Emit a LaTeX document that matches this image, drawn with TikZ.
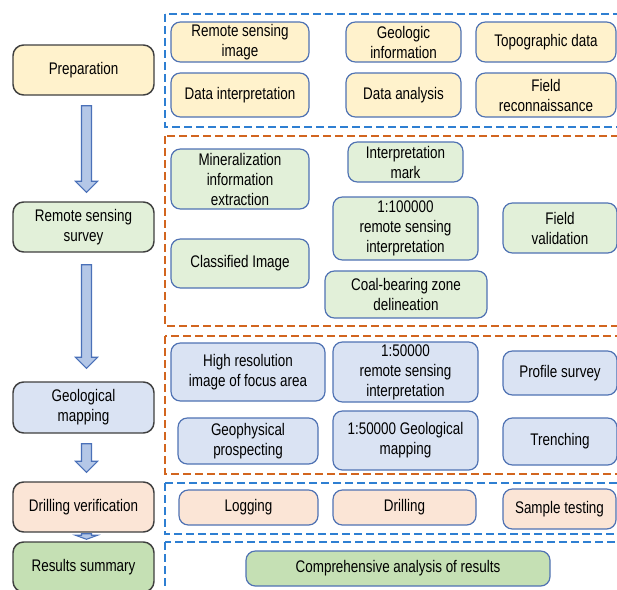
\documentclass[tikz,border=0pt]{standalone}
\usepackage{fontspec}
\setmainfont{Liberation Sans}[FakeStretch=0.8]
\usetikzlibrary{calc}

\definecolor{prepfill}{HTML}{FFF2CC}
\definecolor{surveyfill}{HTML}{E2F0D9}
\definecolor{mapfill}{HTML}{DAE3F3}
\definecolor{drillfill}{HTML}{FBE5D6}
\definecolor{resultfill}{HTML}{C5E0B4}
\definecolor{itemline}{HTML}{4F72B3}
\definecolor{stageline}{HTML}{3F3F3F}
\definecolor{dashblue}{HTML}{2E7FD2}
\definecolor{dashorange}{HTML}{D2651F}
\definecolor{arrowfill}{HTML}{B4C7E7}
\definecolor{arrowline}{HTML}{4A70B8}

\newcommand{\unitpx}{0.75pt}

% block arrow between two stages: from, to, start gap, end gap, head length
\newcommand{\blockarrow}[5]{%
  \draw[bigarrow] ($(#1.south)+(-2,#3)$) -- ($(#2.north)+(-2,-#4-#5)$) -- ++(-6,0)
    -- ($(#2.north)+(3,-#4)$) -- ($(#2.north)+(14,-#4-#5)$) -- ++(-6,0)
    -- ($(#1.south)+(8,#3)$) -- cycle;}

\tikzset{
  sz/.style 2 args={minimum width=#1*\unitpx, minimum height=#2*\unitpx},
  stage/.style={draw=stageline, line width=1.1pt, rounded corners=8pt,
    align=center, inner sep=1pt, sz={141}{50}},
  item/.style={draw=itemline, line width=0.9pt, rounded corners=7pt,
    align=center, inner sep=1pt},
  frame/.style={dashed, dash pattern=on 6pt off 3pt, line width=1.5pt},
  bigarrow/.style={draw=arrowline, fill=arrowfill, line width=0.8pt}
}

\begin{document}
\begin{tikzpicture}[x=0.75pt, y=-0.75pt, font=\fontsize{12.6}{15}\selectfont]
    \clip (0,0) rectangle (617,589);

    % dashed frames
    \draw[frame, dashblue] (165,14) rectangle (640,127);
    \draw[frame, dashorange] (165,136) rectangle (640,326);
    \draw[frame, dashorange] (165,336) rectangle (640,474);
    \draw[frame, dashblue] (165,483) rectangle (640,534);
    \draw[frame, dashblue] (165,542) rectangle (640,610);

    % stages
    \node[stage, fill=prepfill] (prep) at (83.5,70) {Preparation};
    \node[stage, fill=surveyfill] (survey) at (83.5,227) {Remote sensing\\survey};
    \node[stage, fill=mapfill, sz={141}{51}] (geomap) at (83.5,407.5) {Geological\\mapping};
    \node[stage, fill=drillfill] (drillver) at (83.5,507) {Drilling verification};
    \node[stage, fill=resultfill] (results) at (83.5,567) {Results summary};

    \blockarrow{prep}{survey}{10}{9}{11}
    \blockarrow{survey}{geomap}{12}{13}{11}
    \blockarrow{geomap}{drillver}{10}{9}{11}
    \blockarrow{drillver}{results}{1}{2}{4}

    % Preparation
    \begin{scope}[every node/.style={item, fill=prepfill}]
        \node[sz={138}{40}] (rsimage) at (240,42) {Remote sensing\\image};
        \node[sz={138}{44}] (datainterp) at (240,95) {Data interpretation};
        \node[sz={115}{40}] (geoinfo) at (403.5,42) {Geologic\\information};
        \node[sz={115}{44}] (dataanal) at (403.5,95) {Data analysis};
        \node[sz={140}{40}] (topo) at (546,42) {Topographic data};
        \node[sz={140}{44}] (fieldrec) at (546,95) {Field\\reconnaissance};
    \end{scope}

    % Remote sensing survey
    \begin{scope}[every node/.style={item, fill=surveyfill}]
        \node[sz={138}{60}] (mineral) at (240,179) {Mineralization\\information\\extraction};
        \node[sz={138}{49}] (classified) at (240,263.5) {Classified Image};
        \node[sz={115}{40}] (mark) at (405.5,162) {Interpretation\\mark};
        \node[sz={145}{63}] (rs100k) at (405.5,228.5) {1:100000\\remote sensing\\interpretation};
        \node[sz={162}{47}] (coal) at (406,294.5) {Coal-bearing zone\\delineation};
        \node[sz={114}{50}] (fieldval) at (560,228) {Field\\validation};
    \end{scope}

    % Geological mapping
    \begin{scope}[every node/.style={item, fill=mapfill}]
        \node[sz={154}{58}] (highres) at (248,372) {High resolution\\image of focus area};
        \node[sz={140}{46}] (geophys) at (248,441) {Geophysical\\prospecting};
        \node[sz={145}{60}] (rs50k) at (405.5,372) {1:50000\\remote sensing\\interpretation};
        \node[sz={145}{59}] (geomap50k) at (405.5,440.5) {1:50000 Geological\\mapping};
        \node[sz={114}{44}] (profile) at (560,373) {Profile survey};
        \node[sz={114}{47}] (trench) at (560,441.5) {Trenching};
    \end{scope}

    % Drilling verification
    \begin{scope}[every node/.style={item, fill=drillfill}]
        \node[sz={139}{35}] (logging) at (248.5,507.5) {Logging};
        \node[sz={143}{35}] (drilling) at (404.5,507.5) {Drilling};
        \node[sz={113}{40}] (sample) at (559.5,509) {Sample testing};
    \end{scope}

    % Results summary
    \node[item, fill=resultfill, sz={304}{35}] (analysis) at (398,568.5) {Comprehensive analysis of results};
\end{tikzpicture}
\end{document}
